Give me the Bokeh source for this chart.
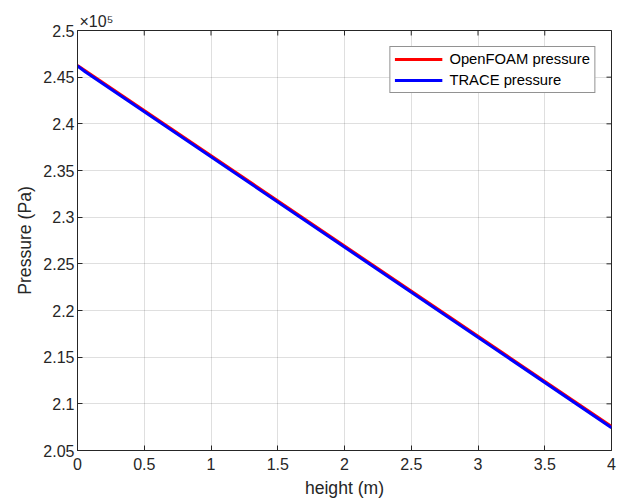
from bokeh.plotting import figure
from bokeh.models import Range1d, FixedTicker, CustomJSTickFormatter, Title
from bokeh.embed import file_html
from bokeh.resources import INLINE

# ---- data ----
height_openfoam = [0.0, 4.0]
pressure_openfoam = [246250, 207570]

height_trace = [0.0, 0.06, 4.0]
pressure_trace = [246200, 245550, 207450]

x_ticks = [0, 0.5, 1, 1.5, 2, 2.5, 3, 3.5, 4]
y_ticks = [205000, 210000, 215000, 220000, 225000, 230000,
           235000, 240000, 245000, 250000]

X_MIN, X_MAX = 0, 4
Y_MIN, Y_MAX = 205000, 250000

FONT = "Liberation Sans"
INK = "#262626"

p = figure(width=620, height=500, output_backend="svg", toolbar_location=None,
           x_range=Range1d(X_MIN, X_MAX), y_range=Range1d(Y_MIN, Y_MAX),
           min_border_left=77, min_border_right=9, min_border_top=30,
           min_border_bottom=49)
p.background_fill_color = "white"
p.border_fill_color = "white"
p.outline_line_color = INK
p.outline_line_width = 1

p.line(height_openfoam, pressure_openfoam, line_color="#ff0000", line_width=3,
       legend_label="OpenFOAM pressure")
p.line(height_trace, pressure_trace, line_color="#0000ff", line_width=3,
       legend_label="TRACE pressure")

# inward tick marks on the top and right edges (MATLAB box style)
p.scatter(x_ticks, [Y_MAX] * len(x_ticks), marker="dash", size=10,
          angle=1.5707963, line_color=INK, line_width=1)
p.scatter([X_MAX] * len(y_ticks), y_ticks, marker="dash", size=10,
          line_color=INK, line_width=1)

xfmt = CustomJSTickFormatter(code="return String(tick);")
yfmt = CustomJSTickFormatter(code="var v=(tick/1e5).toFixed(2); v=v.replace(/0$/,''); v=v.replace(/\\.$/,''); return v;")

xax = p.below[0]
yax = p.left[0]
xax.ticker = FixedTicker(ticks=x_ticks)
xax.formatter = xfmt
yax.ticker = FixedTicker(ticks=y_ticks)
yax.formatter = yfmt

for ax in (xax, yax):
    ax.major_tick_in = 5
    ax.major_tick_out = 0
    ax.minor_tick_line_color = None
    ax.major_tick_line_color = INK
    ax.axis_line_color = INK
    ax.major_label_text_font = FONT
    ax.major_label_text_color = INK
    ax.major_label_text_font_size = "16px"
    ax.axis_label_text_font = FONT
    ax.axis_label_text_color = INK
    ax.axis_label_text_font_style = "normal"
    ax.axis_label_text_font_size = "17.6px"

xax.axis_label = "height (m)"
yax.axis_label = "Pressure (Pa)"
xax.major_label_standoff = 7
xax.axis_label_standoff = 5
yax.major_label_standoff = 3
yax.axis_label_standoff = 5

p.grid.grid_line_color = INK
p.grid.grid_line_alpha = 0.15
p.grid.grid_line_width = 1

# exponent label (x10^5) above the top-left corner
p.add_layout(Title(text="×10⁵", align="left", offset=2, standoff=1,
                   text_font=FONT, text_font_size="16px",
                   text_font_style="normal", text_color=INK), "above")

lg = p.legend[0]
lg.location = "top_right"
lg.margin = 16
lg.padding = 4
lg.spacing = 5
lg.glyph_width = 48
lg.glyph_height = 16
lg.label_height = 16
lg.label_standoff = 7
lg.label_text_font = FONT
lg.label_text_font_size = "14.8px"
lg.label_text_color = "black"
lg.border_line_color = INK
lg.border_line_width = 1
lg.background_fill_alpha = 1

open("out.html", "w").write(file_html(p, INLINE))
